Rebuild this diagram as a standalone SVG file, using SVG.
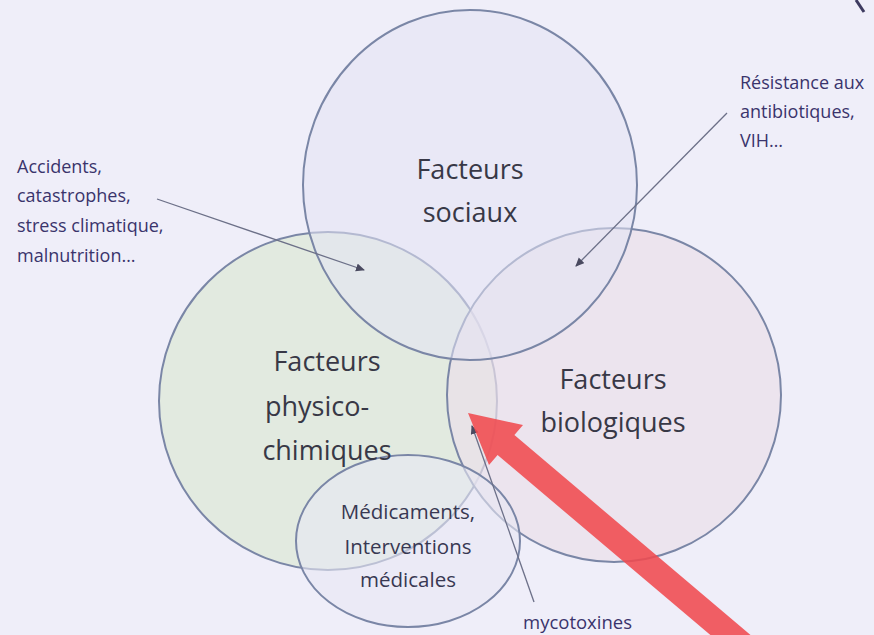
<svg xmlns="http://www.w3.org/2000/svg" width="874" height="635" viewBox="0 0 874 635">
<style>
.big{font-family:"Open Sans","Liberation Sans",sans-serif;font-size:27px;fill:#383846;text-anchor:middle}
.mid{font-family:"Open Sans","Liberation Sans",sans-serif;font-size:20.5px;fill:#383852;text-anchor:middle}
.note{font-family:"Open Sans","Liberation Sans",sans-serif;font-size:18px;fill:#3a346c}
.circ{stroke:#7a86a6;stroke-width:2}
.con{stroke:#6c7088;stroke-width:1.3;fill:none}
</style>
<defs>
<marker id="ah" markerWidth="10" markerHeight="10" refX="8" refY="4" orient="auto" markerUnits="userSpaceOnUse">
<path d="M0,0 L9,4 L0,8 Z" fill="#4a4a60"/>
</marker>
</defs>
<rect width="874" height="635" fill="#efeef9"/>
<g id="physico">
<circle class="circ" cx="328" cy="401" r="169" fill="#dfe9dc" fill-opacity="0.85"/>
</g>
<g id="biologiques">
<circle class="circ" cx="614" cy="395" r="167" fill="#ebdfea" fill-opacity="0.7"/>
</g>
<g id="sociaux">
<ellipse class="circ" cx="470" cy="185" rx="167" ry="175" fill="#e4e3f4" fill-opacity="0.55"/>
</g>
<g id="medicaments">
<ellipse class="circ" cx="408" cy="541" rx="112" ry="86" fill="#e7e8f4" fill-opacity="0.6"/>
</g>
<g id="labels">
<text class="big" x="470" y="179">Facteurs</text>
<text class="big" x="470" y="222">sociaux</text>
<text class="big" x="327" y="371">Facteurs</text>
<text class="big" x="317" y="416">physico-</text>
<text class="big" x="327" y="460">chimiques</text>
<text class="big" x="613" y="389">Facteurs</text>
<text class="big" x="613" y="432">biologiques</text>
<text class="mid" x="408" y="519">Médicaments,</text>
<text class="mid" x="408" y="554">Interventions</text>
<text class="mid" x="408" y="587">médicales</text>
</g>
<g id="notes">
<text class="note" x="17" y="173">Accidents,</text>
<text class="note" x="17" y="202">catastrophes,</text>
<text class="note" x="17" y="232">stress climatique,</text>
<text class="note" x="17" y="262">malnutrition…</text>
<text class="note" x="740" y="89">Résistance aux</text>
<text class="note" x="740" y="118">antibiotiques,</text>
<text class="note" x="740" y="147">VIH…</text>
<text class="note" x="523" y="629" style="font-size:18.5px">mycotoxines</text>
</g>
<g id="connectors">
<path class="con" d="M157,199 L364,270" marker-end="url(#ah)"/>
<path class="con" d="M727,113 L576,266" marker-end="url(#ah)"/>
<path class="con" d="M534,602 L472,426" marker-end="url(#ah)"/>
<path d="M856,0 L864,12" stroke="#3d3a60" stroke-width="3" fill="none"/>
</g>
<g id="red-arrow">
<path d="M468,413 L523,425 L514.4,435 L819,693 L802.6,713 L497.6,455 L489,465 Z" fill="#f04a4e" fill-opacity="0.88"/>
</g>
</svg>
